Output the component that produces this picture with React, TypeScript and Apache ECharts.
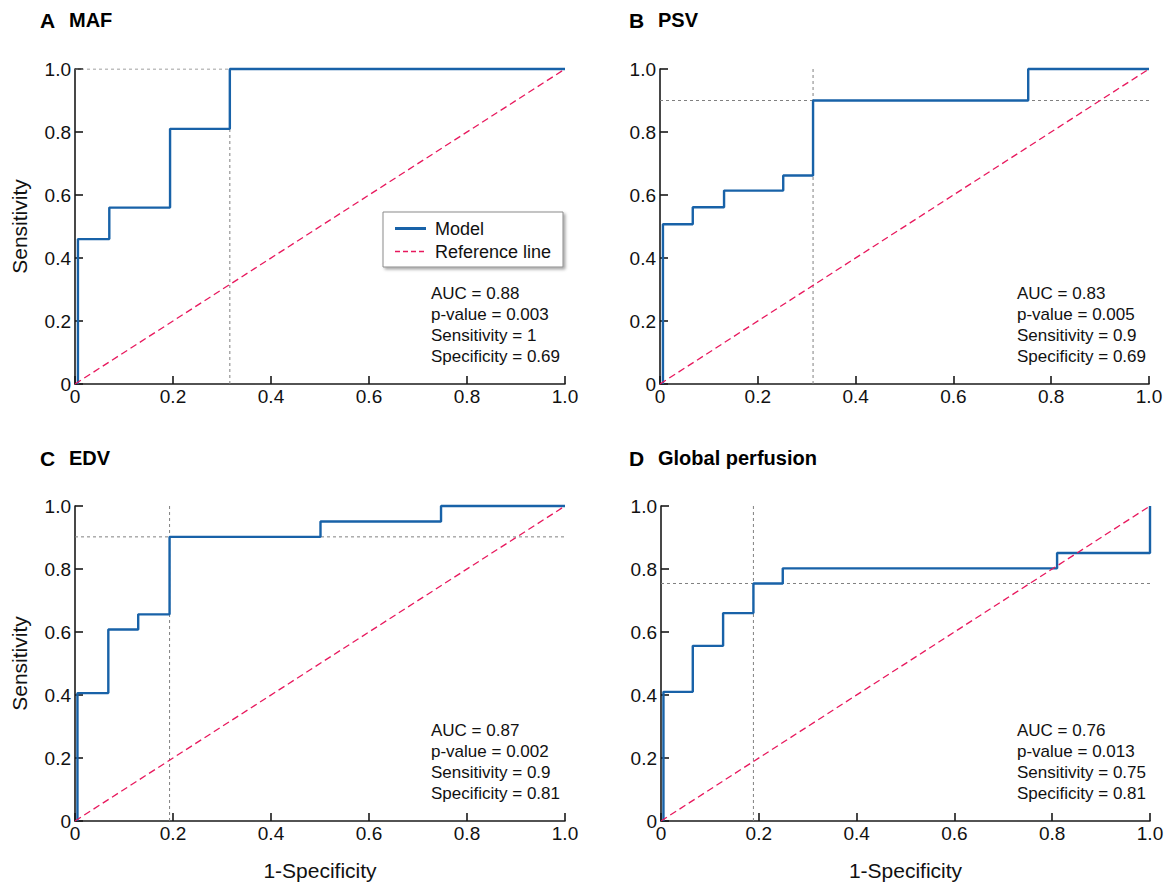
import React, { useEffect, useRef } from "react";
import * as echarts from "echarts";

const FONT = "'Liberation Sans', Arial, Helvetica, sans-serif";

// Panel labels
const PANEL_LETTERS = ["A", "B", "C", "D"];
const PANEL_NAMES = ["MAF", "PSV", "EDV", "Global perfusion"];

// ROC curve vertices (1-Specificity, Sensitivity)
const MAF_FPR = [0.006, 0.006, 0.07, 0.07, 0.194, 0.194, 0.316, 0.316, 1.0];
const MAF_TPR = [0, 0.46, 0.46, 0.56, 0.56, 0.81, 0.81, 1.0, 1.0];

const PSV_FPR = [0.006, 0.006, 0.067, 0.067, 0.131, 0.131, 0.252, 0.252, 0.313, 0.313, 0.753, 0.753, 1.0];
const PSV_TPR = [0, 0.507, 0.507, 0.561, 0.561, 0.614, 0.614, 0.662, 0.662, 0.9, 0.9, 1.0, 1.0];

const EDV_FPR = [0.005, 0.005, 0.068, 0.068, 0.129, 0.129, 0.193, 0.193, 0.501, 0.501, 0.747, 0.747, 1.0];
const EDV_TPR = [0, 0.406, 0.406, 0.608, 0.608, 0.656, 0.656, 0.902, 0.902, 0.951, 0.951, 1.0, 1.0];

const GP_FPR = [0.005, 0.005, 0.065, 0.065, 0.127, 0.127, 0.189, 0.189, 0.249, 0.249, 0.81, 0.81, 1.0, 1.0];
const GP_TPR = [0, 0.41, 0.41, 0.556, 0.556, 0.66, 0.66, 0.754, 0.754, 0.802, 0.802, 0.851, 0.851, 1.0];

const CURVES_FPR = [MAF_FPR, PSV_FPR, EDV_FPR, GP_FPR];
const CURVES_TPR = [MAF_TPR, PSV_TPR, EDV_TPR, GP_TPR];

// Optimal cut-off point (dotted guides)
const CUTOFF_FPR = [0.316, 0.313, 0.193, 0.189];
const CUTOFF_TPR = [1.0, 0.9, 0.902, 0.754];

// Reference (chance) line
const REF_X = [0, 1];
const REF_Y = [0, 1];

// Statistics
const AUC = ["0.88", "0.83", "0.87", "0.76"];
const P_VALUES = ["0.003", "0.005", "0.002", "0.013"];
const SENSITIVITY = ["1", "0.9", "0.9", "0.75"];
const SPECIFICITY = ["0.69", "0.69", "0.81", "0.81"];

// Legend entries
const LEGEND_NAMES = ["Model", "Reference line"];

const AXIS_MIN = 0;
const AXIS_MAX = 1;
const AXIS_STEP = 0.2;

const BLUE = "#1862a8";
const RED = "#e8185d";
const GUIDE = "#808080";
const AXIS_COLOR = "#1a1a1a";
const TEXT = "#111";

const GRIDS = [
  { left: 75, top: 69, width: 490, height: 315 },
  { left: 660, top: 69, width: 489, height: 315 },
  { left: 75, top: 506, width: 490, height: 315 },
  { left: 661, top: 506, width: 489, height: 315 },
];

const TITLE_POS = [
  { x: 40, y: 20 },
  { x: 629, y: 20 },
  { x: 40, y: 458 },
  { x: 629, y: 458 },
];

const STATS_POS = [
  { x: 431, y: 283 },
  { x: 1017, y: 283 },
  { x: 431, y: 720 },
  { x: 1017, y: 720 },
];

const fmt = (v: number) => (v === 0 ? "0" : v.toFixed(1));

function buildOption() {
  const xAxis: any[] = [];
  const yAxis: any[] = [];
  const series: any[] = [];
  const graphic: any[] = [];

  for (let i = 0; i < 4; i++) {
    const axisLine = { show: true, lineStyle: { color: AXIS_COLOR, width: 1.6 } };
    const axisTick = { show: true, inside: true, length: 8, lineStyle: { color: AXIS_COLOR, width: 1.6 } };
    const isBottom = i >= 2;
    const isLeft = i % 2 === 0;
    xAxis.push({
      gridIndex: i,
      type: "value",
      min: AXIS_MIN,
      max: AXIS_MAX,
      interval: AXIS_STEP,
      axisLine,
      axisTick,
      splitLine: { show: false },
      axisLabel: { formatter: fmt, fontSize: 19, color: TEXT, margin: 3, fontFamily: FONT },
      name: isBottom ? "1-Specificity" : "",
      nameLocation: "middle",
      nameGap: 39,
      nameTextStyle: { fontSize: 21, color: TEXT, fontFamily: FONT },
    });
    yAxis.push({
      gridIndex: i,
      type: "value",
      min: AXIS_MIN,
      max: AXIS_MAX,
      interval: AXIS_STEP,
      axisLine,
      axisTick,
      splitLine: { show: false },
      axisLabel: { formatter: fmt, fontSize: 19, color: TEXT, margin: 4, fontFamily: FONT },
      name: isLeft ? "Sensitivity" : "",
      nameLocation: "middle",
      nameGap: 45,
      nameRotate: 90,
      nameTextStyle: { fontSize: 21, color: TEXT, fontFamily: FONT },
    });

    const guideStyle = { color: GUIDE, width: 1, type: [3, 3] };
    series.push({
      type: "line",
      xAxisIndex: i,
      yAxisIndex: i,
      data: [
        [CUTOFF_FPR[i], AXIS_MIN],
        [CUTOFF_FPR[i], AXIS_MAX],
      ],
      symbol: "none",
      silent: true,
      lineStyle: guideStyle,
      z: 1,
    });
    series.push({
      type: "line",
      xAxisIndex: i,
      yAxisIndex: i,
      data: [
        [AXIS_MIN, CUTOFF_TPR[i]],
        [AXIS_MAX, CUTOFF_TPR[i]],
      ],
      symbol: "none",
      silent: true,
      lineStyle: guideStyle,
      z: 1,
    });
    series.push({
      name: LEGEND_NAMES[0],
      type: "line",
      xAxisIndex: i,
      yAxisIndex: i,
      data: CURVES_FPR[i].map((x, k) => [x, CURVES_TPR[i][k]]),
      symbol: "none",
      clip: false,
      lineStyle: { color: BLUE, width: 2.4 },
      itemStyle: { color: BLUE },
      z: 3,
    });
    series.push({
      name: LEGEND_NAMES[1],
      type: "line",
      xAxisIndex: i,
      yAxisIndex: i,
      data: REF_X.map((x, k) => [x, REF_Y[k]]),
      symbol: "none",
      clip: false,
      lineStyle: { color: RED, width: 1.3, type: [7, 4] },
      itemStyle: { color: RED },
      z: 4,
    });

    graphic.push({
      type: "text",
      x: TITLE_POS[i].x,
      y: TITLE_POS[i].y,
      style: {
        text: `{a|${PANEL_LETTERS[i]}}{b|${PANEL_NAMES[i]}}`,
        verticalAlign: "middle",
        rich: {
          a: { fontSize: 21, fontWeight: "bold", fontFamily: FONT, width: 29, fill: "#000", color: "#000" },
          b: { fontSize: 20, fontWeight: "bold", fontFamily: FONT, fill: "#000", color: "#000" },
        },
      },
    });
    graphic.push({
      type: "text",
      x: STATS_POS[i].x,
      y: STATS_POS[i].y,
      style: {
        text: [
          `AUC = ${AUC[i]}`,
          `p-value = ${P_VALUES[i]}`,
          `Sensitivity = ${SENSITIVITY[i]}`,
          `Specificity = ${SPECIFICITY[i]}`,
        ].join("\n"),
        fontSize: 17,
        lineHeight: 21,
        fontFamily: FONT,
        fill: TEXT,
        verticalAlign: "top",
      },
    });
  }

  // Legend box (panel A)
  graphic.push({
    type: "group",
    x: 383,
    y: 212,
    children: [
      {
        type: "rect",
        shape: { x: 0, y: 0, width: 180, height: 55 },
        style: {
          fill: "#fff",
          stroke: "#8a8a8a",
          lineWidth: 1,
          shadowBlur: 3,
          shadowOffsetX: 2,
          shadowOffsetY: 2,
          shadowColor: "rgba(0,0,0,0.35)",
        },
      },
      {
        type: "line",
        shape: { x1: 12, y1: 16.5, x2: 43, y2: 16.5 },
        style: { stroke: BLUE, lineWidth: 3 },
      },
      {
        type: "line",
        shape: { x1: 12, y1: 39.5, x2: 43, y2: 39.5 },
        style: { stroke: RED, lineWidth: 1.5, lineDash: [5, 3] },
      },
      {
        type: "text",
        x: 52,
        y: 16.5,
        style: { text: LEGEND_NAMES[0], fontSize: 18, fontFamily: FONT, fill: TEXT, verticalAlign: "middle" },
      },
      {
        type: "text",
        x: 52,
        y: 39.5,
        style: { text: LEGEND_NAMES[1], fontSize: 18, fontFamily: FONT, fill: TEXT, verticalAlign: "middle" },
      },
    ],
  });

  return {
    animation: false,
    backgroundColor: "#fff",
    textStyle: { fontFamily: FONT },
    grid: GRIDS.map((g) => ({ ...g, containLabel: false })),
    xAxis,
    yAxis,
    series,
    graphic,
  };
}

export default function App() {
  const ref = useRef<HTMLDivElement>(null);
  useEffect(() => {
    document.body.style.margin = "0";
    if (!ref.current) return;
    const chart = echarts.init(ref.current, undefined, { renderer: "svg" });
    chart.setOption(buildOption() as any);
    return () => chart.dispose();
  }, []);
  return <div ref={ref} style={{ width: 1167, height: 883 }} />;
}
